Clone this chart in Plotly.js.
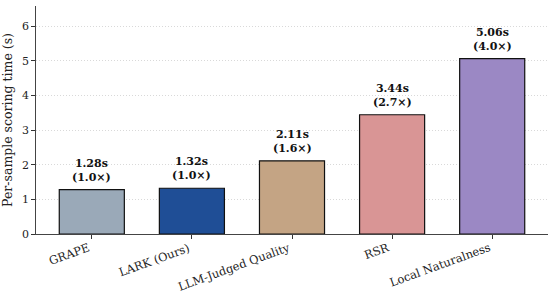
<!DOCTYPE html>
<html><head><meta charset="utf-8">
<script src="https://cdn.plot.ly/plotly-3.0.1.min.js"></script>
<style>body{margin:0;background:#fff}#c{width:555px;height:291px}</style>
</head><body><div id="c"></div>
<script>
const categories = ["GRAPE", "LARK (Ours)", "LLM-Judged Quality", "RSR", "Local Naturalness"];
const times = [1.28, 1.32, 2.11, 3.44, 5.06];
const ratios = ["1.0", "1.0", "1.6", "2.7", "4.0"];
const colors = ["#9aa9b8", "#1f4e96", "#c4a484", "#d99595", "#9b88c4"];
const yTicks = [0, 1, 2, 3, 4, 5, 6];

const xs = categories.map((_, i) => i);
const font = "DejaVu Serif";

const trace = {
  type: "bar", x: xs, y: times, width: 0.65,
  marker: {color: colors, line: {color: "#111", width: 1.2}},
  hoverinfo: "skip"
};

const valueLabels = xs.map((x, i) => ({
  x: x, y: times[i], xref: "x", yref: "y",
  text: "<b>" + times[i].toFixed(2) + "s<br>(" + ratios[i] + "×)</b>",
  showarrow: false, yanchor: "bottom", yshift: 4,
  font: {family: font, size: 11, color: "#111"}, align: "center"
}));

const catLabels = xs.map((x, i) => ({
  x: x, y: 0, xref: "x", yref: "paper",
  text: categories[i], textangle: -20,
  showarrow: false, xanchor: "right", yanchor: "top", yshift: -5, xshift: 1,
  borderpad: 0,
  font: {family: font, size: 11.5, color: "#222"}
}));

const layout = {
  width: 555, height: 291,
  margin: {l: 36, r: 7, t: 6, b: 57},
  paper_bgcolor: "#fff", plot_bgcolor: "#fff",
  showlegend: false,
  font: {family: font, size: 11, color: "#222"},
  xaxis: {
    range: [-0.5575, 4.5575], tickvals: xs, showticklabels: false,
    ticks: "outside", ticklen: 3.5, tickcolor: "#333",
    showline: true, linecolor: "#444", linewidth: 1.2, showgrid: false, zeroline: false,
    automargin: false
  },
  yaxis: {
    range: [0, 6.578], tickvals: yTicks, ticks: "outside", ticklen: 3.5, tickcolor: "#333",
    showline: true, linecolor: "#444", linewidth: 1.2,
    showgrid: true, gridcolor: "#cfcfcf", griddash: "1px,2px", gridwidth: 0.8, zeroline: false,
    tickfont: {family: font, size: 11, color: "#222"},
    title: {text: "Per-sample scoring time (s)", font: {family: font, size: 12.5, color: "#222"}, standoff: 8},
    automargin: false
  },
  annotations: valueLabels.concat(catLabels)
};

Plotly.newPlot("c", [trace], layout, {displayModeBar: false, staticPlot: true});
</script></body></html>
